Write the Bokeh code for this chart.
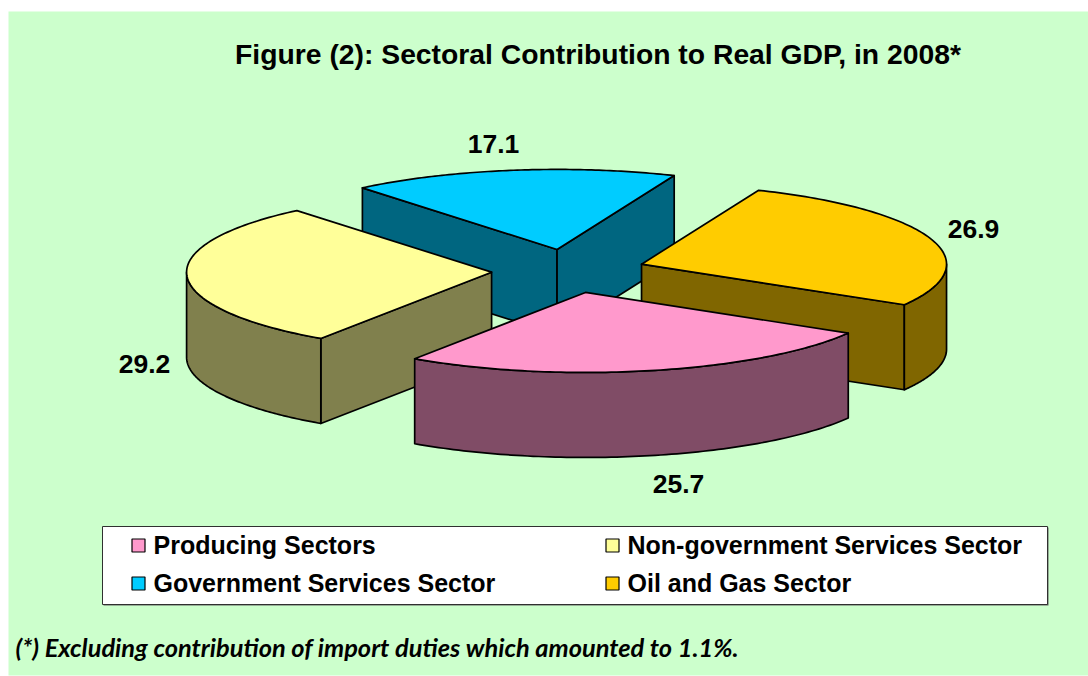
import numpy as np
from bokeh.plotting import figure
from bokeh.core.properties import value
from bokeh.embed import file_html
from bokeh.resources import INLINE

# ---- data
sectors = ["Producing Sectors", "Non-government Services Sector",
           "Government Services Sector", "Oil and Gas Sector"]
shares = [25.7, 29.2, 17.1, 26.9]
title_text = "Figure (2): Sectoral Contribution to Real GDP, in 2008*"
note_text = "(*)  Excluding contribution of import duties  which amounted to 1.1%."

# ---- styles and layout (page pixels)
top_colors = ["#FF99CC", "#FFFF99", "#00CCFF", "#FFCC00"]
side_colors = ["#804C66", "#80804D", "#006680", "#806600"]
BG = "#CCFFCC"
CX, CY = 568.0, 270.6      # pie centre
RX, RY = 305.0, 80.0       # ellipse radii
DEPTH = 85.0
EXPLODE = (77.0, 21.9)     # explosion offset
START = 30.5               # degrees, clockwise on screen from the right
label_pos = [(678, 483), (144, 363), (493, 143), (973, 228)]
legend_pos = [(138, 545), (612, 545), (138, 583), (612, 583)]
draw_order = [2, 3, 1, 0]
LINE = 1.7

W, H = 1088, 676
p = figure(width=W, height=H, x_range=(8, W), y_range=(H - 1, 11),
           toolbar_location=None, output_backend="svg", min_border=0,
           min_border_top=11, min_border_left=8, min_border_bottom=1,
           border_fill_color="white",
           background_fill_color=BG, outline_line_color=None)
p.xaxis.visible = False
p.yaxis.visible = False
p.grid.visible = False

total = sum(shares)
edges = START + np.concatenate([[0], np.cumsum(shares)]) * 360.0 / total


def arc(ax, ay, a0, a1):
    t = np.radians(np.linspace(a0, a1, 90))
    return ax + RX * np.cos(t), ay + RY * np.sin(t)


def face(xs, ys, color):
    p.patch(list(xs), list(ys), fill_color=color, line_color="black",
            line_width=LINE, line_join="round")


for i in draw_order:
    a0, a1 = edges[i], edges[i + 1]
    mid = np.radians((a0 + a1) / 2)
    ax = CX + EXPLODE[0] * np.cos(mid)
    ay = CY + EXPLODE[1] * np.sin(mid)
    # flat radial walls facing the viewer
    for ang, visible in ((a0, np.cos(np.radians(a0)) < 0),
                         (a1, np.cos(np.radians(a1)) > 0)):
        if visible:
            ex = ax + RX * np.cos(np.radians(ang))
            ey = ay + RY * np.sin(np.radians(ang))
            face([ax, ex, ex, ax], [ay, ey, ey + DEPTH, ay + DEPTH], side_colors[i])
    # curved outer wall, the part that lies on the near half of the ellipse
    for k in (0, 360):
        lo, hi = max(a0, k), min(a1, k + 180)
        if lo < hi:
            xs, ys = arc(ax, ay, lo, hi)
            face(np.r_[xs, xs[::-1]], np.r_[ys, ys[::-1] + DEPTH], side_colors[i])
    # top
    xs, ys = arc(ax, ay, a0, a1)
    face(np.r_[ax, xs], np.r_[ay, ys], top_colors[i])

font = value("Liberation Sans")
p.text(x=[597.5], y=[53], text=[title_text], text_font=font, text_font_style="bold",
       text_font_size="28.3px", text_align="center", text_baseline="middle", text_color="black")
p.text(x=[q[0] for q in label_pos], y=[q[1] for q in label_pos],
       text=[f"{s:.1f}" for s in shares], text_font=font, text_font_style="bold",
       text_font_size="26.5px", text_align="center", text_baseline="middle", text_color="black")

# legend box
p.quad(left=[103], right=[1048], top=[527], bottom=[605], fill_color="#606060", line_color=None)
p.quad(left=[102], right=[1047], top=[526], bottom=[604], fill_color="white",
       line_color="#303030", line_width=1)
p.scatter(x=[q[0] for q in legend_pos], y=[q[1] for q in legend_pos], marker="square",
          size=13, fill_color=top_colors, line_color="black", line_width=1.2)
p.text(x=[q[0] + 15 for q in legend_pos], y=[q[1] - 1 for q in legend_pos], text=sectors,
       text_font=font, text_font_style="bold", text_font_size="25px",
       text_align="left", text_baseline="middle", text_color="black")

p.text(x=[15], y=[646], text=[note_text], text_font=value("Lato"),
       text_font_style="bold italic", text_font_size="25.4px",
       text_align="left", text_baseline="middle", text_color="black")

open("out.html", "w").write(file_html(p, INLINE))
